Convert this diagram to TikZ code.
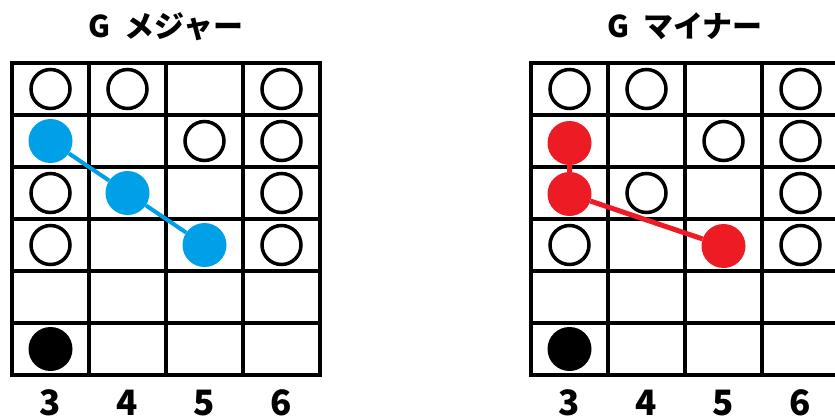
\documentclass[tikz,border=0pt]{standalone}
\usepackage{fontspec}
\newfontfamily\cjk{Noto Sans CJK JP}
\usetikzlibrary{positioning}
\definecolor{majblue}{RGB}{0,160,233}
\definecolor{minred}{RGB}{237,28,36}

\begin{document}
\begin{tikzpicture}[x=1pt, y=-1pt,
  grid/.style={line width=4.5pt},
  ring/.style={circle, draw, line width=3.5pt, minimum size=39pt, inner sep=0pt},
  spot/.style={circle, fill=#1, minimum size=44pt, inner sep=0pt},
  link/.style={line width=#1pt},
  title/.style={font=\cjk\bfseries\fontsize{30}{30}\selectfont, anchor=base},
  fret/.style={font=\cjk\bfseries\fontsize{35}{35}\selectfont, anchor=base}]
\useasboundingbox (0,0) rectangle (835,420);
\clip (0,0) rectangle (835,420);

% G major
\begin{scope}[xshift=12pt]
\node[title] (Mt) at (154,38) {G\hspace{14pt}メジャー};
\draw[grid] (0,63) rectangle (308,375);
\foreach \x in {1,2,3} \draw[grid] (77*\x,63) -- (77*\x,375);
\foreach \y in {1,...,5} \draw[grid] (0,63+52*\y) -- (308,63+52*\y);
\foreach \c/\r in {1/1,2/1,4/1,3/2,4/2,1/3,4/3,1/4,4/4}
  \node[ring] (Mo\c\r) at ({77*\c-38.5},{52*\r+37}) {};
\node[spot=majblue] (Mb1) at (38.5,141) {};
\node[spot=majblue] (Mb2) at (115.5,193) {};
\node[spot=majblue] (Mb3) at (192.5,245) {};
\node[spot=black] (Mroot) at (38.5,349) {};
\draw[link=4, majblue] (Mb1) -- (Mb2) -- (Mb3);
\foreach \c/\n in {1/3,2/4,3/5,4/6}
  \node[fret] (Mf\c) at ({77*\c-38.5},415) {\n};
\end{scope}

% G minor
\begin{scope}[xshift=531pt]
\node[title] (mt) at (154,38) {G\hspace{14pt}マイナー};
\draw[grid] (0,63) rectangle (308,375);
\foreach \x in {1,2,3} \draw[grid] (77*\x,63) -- (77*\x,375);
\foreach \y in {1,...,5} \draw[grid] (0,63+52*\y) -- (308,63+52*\y);
\foreach \c/\r in {1/1,2/1,4/1,3/2,4/2,2/3,4/3,1/4,4/4}
  \node[ring] (mo\c\r) at ({77*\c-38.5},{52*\r+37}) {};
\node[spot=minred] (mr1) at (38.5,143) {};
\node[spot=minred] (mr2) at (38.5,194) {};
\node[spot=minred] (mr3) at (192.5,246) {};
\node[spot=black] (mroot) at (38.5,349) {};
\draw[link=5, minred] (mr1) -- (mr2) -- (mr3);
\foreach \c/\n in {1/3,2/4,3/5,4/6}
  \node[fret] (mf\c) at ({77*\c-38.5},415) {\n};
\end{scope}
\end{tikzpicture}
\end{document}
